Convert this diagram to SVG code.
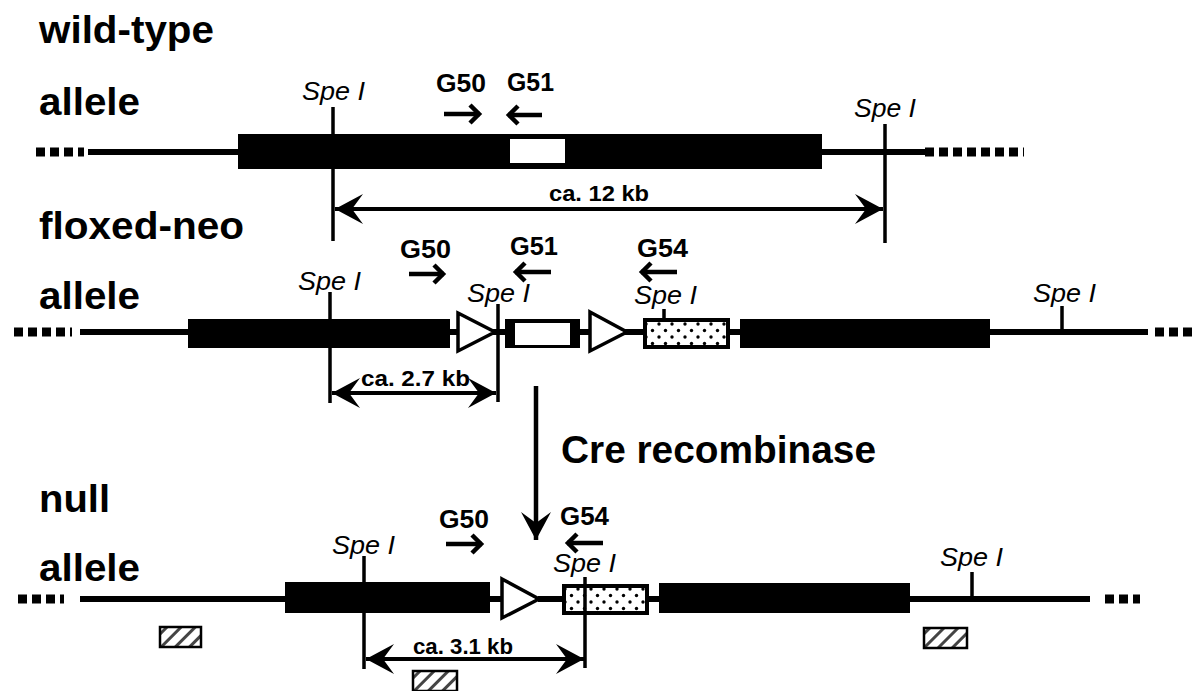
<svg xmlns="http://www.w3.org/2000/svg" width="1195" height="691" viewBox="0 0 1195 691">
<style>
text{font-family:"Liberation Sans",Arial,sans-serif;fill:#000}
.h{font-size:39px;font-weight:bold}
.g{font-size:25px;font-weight:bold}
.s{font-size:26px;font-style:italic}
.k{font-size:22px;font-weight:bold}
.b{fill:#000}
.l{stroke:#000;stroke-width:6;fill:none}
.t{stroke:#000;stroke-width:3.500;fill:none}
.d{stroke:#000;stroke-width:9;fill:none;stroke-dasharray:9 5}
.tri{fill:#fff;stroke:#000;stroke-width:3.500}
.sm{stroke:#000;stroke-width:4.500;fill:none}
.dim{stroke:#000;stroke-width:4;fill:none;marker-start:url(#barbS);marker-end:url(#barbE)}
.cre{stroke:#000;stroke-width:4.500;fill:none;marker-end:url(#barbE)}
.hb{fill:url(#hatch);stroke:#000;stroke-width:2.500}
</style>
<defs>
<marker id="barbE" markerUnits="userSpaceOnUse" markerWidth="32" markerHeight="32" refX="30" refY="16" orient="auto"><path d="M30 16L2 1 13 16 2 31Z" fill="#000"/></marker>
<marker id="barbS" markerUnits="userSpaceOnUse" markerWidth="32" markerHeight="32" refX="2" refY="16" orient="auto"><path d="M2 16L30 1 19 16 30 31Z" fill="#000"/></marker>
<marker id="head" markerUnits="userSpaceOnUse" markerWidth="16" markerHeight="22" refX="13" refY="11" orient="auto"><path d="M3 2L12 11 3 20" fill="none" stroke="#000" stroke-width="4.500"/></marker>
<pattern id="dots" width="13" height="13" patternUnits="userSpaceOnUse" x="643" y="321"><rect width="13" height="13" fill="#fff"/><circle cx="3" cy="3" r="1.700"/><circle cx="9.500" cy="9.500" r="1.700"/></pattern>
<pattern id="dots2" width="13" height="13" patternUnits="userSpaceOnUse" x="562" y="586"><rect width="13" height="13" fill="#fff"/><circle cx="3" cy="3" r="1.700"/><circle cx="9.500" cy="9.500" r="1.700"/></pattern>
<pattern id="hatch" width="10" height="10" patternUnits="userSpaceOnUse" patternTransform="rotate(45)"><rect width="10" height="10" fill="#fff"/><rect width="3" height="10" fill="#444"/></pattern>
</defs>

<g id="wild-type-allele">
<text class="h" x="39" y="43" textLength="175" lengthAdjust="spacingAndGlyphs">wild-type</text>
<text class="h" x="39" y="115" textLength="101" lengthAdjust="spacingAndGlyphs">allele</text>
<path class="d" d="M36 152H84"/>
<path class="l" d="M88 152H238M822 152H925"/>
<path class="d" d="M925 152H1024"/>
<rect class="b" x="238" y="134" width="584" height="35"/>
<rect x="510" y="139" width="55" height="24" fill="#fff"/>
<text class="s" x="302" y="100" textLength="63" lengthAdjust="spacingAndGlyphs">Spe I</text>
<text class="s" x="854" y="117" textLength="62" lengthAdjust="spacingAndGlyphs">Spe I</text>
<text class="g" x="436" y="92" textLength="50" lengthAdjust="spacingAndGlyphs">G50</text>
<text class="g" x="507" y="91" textLength="47" lengthAdjust="spacingAndGlyphs">G51</text>
<text class="k" x="549" y="201" textLength="100" lengthAdjust="spacingAndGlyphs">ca. 12 kb</text>
</g>

<g id="floxed-neo-allele">
<text class="h" x="39" y="239" textLength="205" lengthAdjust="spacingAndGlyphs">floxed-neo</text>
<text class="h" x="39" y="309" textLength="101" lengthAdjust="spacingAndGlyphs">allele</text>
<path class="d" d="M14 332H72"/>
<path class="l" d="M80 332H188M450 332H505M580 332H643M730 332H740M990 332H1148"/>
<path class="d" d="M1155 332H1195"/>
<rect class="b" x="188" y="319" width="262" height="29"/>
<polygon class="tri" points="458,313 495,332 458,351"/>
<rect class="b" x="505" y="319" width="75" height="29"/>
<rect x="515" y="323" width="55" height="22" fill="#fff"/>
<polygon class="tri" points="590,312 627,332 590,351"/>
<rect x="645" y="320" width="83" height="27" fill="url(#dots)" stroke="#000" stroke-width="4"/>
<rect class="b" x="740" y="319" width="250" height="29"/>
<text class="s" x="298" y="290" textLength="63" lengthAdjust="spacingAndGlyphs">Spe I</text>
<text class="s" x="467" y="302" textLength="63" lengthAdjust="spacingAndGlyphs">Spe I</text>
<text class="s" x="634" y="304" textLength="63" lengthAdjust="spacingAndGlyphs">Spe I</text>
<text class="s" x="1033" y="302" textLength="63" lengthAdjust="spacingAndGlyphs">Spe I</text>
<text class="g" x="400" y="258" textLength="51" lengthAdjust="spacingAndGlyphs">G50</text>
<text class="g" x="510" y="255" textLength="48" lengthAdjust="spacingAndGlyphs">G51</text>
<text class="g" x="637" y="257" textLength="51" lengthAdjust="spacingAndGlyphs">G54</text>
<text class="k" x="361" y="386" textLength="109" lengthAdjust="spacingAndGlyphs">ca. 2.7 kb</text>
</g>

<g id="null-allele">
<text class="h" x="39" y="512" textLength="71" lengthAdjust="spacingAndGlyphs">null</text>
<text class="h" x="39" y="581" textLength="101" lengthAdjust="spacingAndGlyphs">allele</text>
<path class="d" d="M18 599H64"/>
<path class="l" d="M80 599H285M490 599H501M538 599H562M649 599H659M910 599H1090"/>
<path class="d" d="M1105 599H1140"/>
<rect class="b" x="285" y="582" width="205" height="31"/>
<polygon class="tri" points="502,579 539,599 502,618"/>
<rect x="564" y="586" width="83" height="27" fill="url(#dots2)" stroke="#000" stroke-width="4"/>
<rect class="b" x="659" y="583" width="251" height="30"/>
<text class="s" x="332" y="554" textLength="63" lengthAdjust="spacingAndGlyphs">Spe I</text>
<text class="s" x="553" y="572" textLength="63" lengthAdjust="spacingAndGlyphs">Spe I</text>
<text class="s" x="940" y="566" textLength="63" lengthAdjust="spacingAndGlyphs">Spe I</text>
<text class="g" x="439" y="528" textLength="50" lengthAdjust="spacingAndGlyphs">G50</text>
<text class="g" x="560" y="525" textLength="49" lengthAdjust="spacingAndGlyphs">G54</text>
<text class="k" x="413" y="654" textLength="100" lengthAdjust="spacingAndGlyphs">ca. 3.1 kb</text>
<rect class="hb" x="160" y="627" width="41" height="20"/>
<rect class="hb" x="413" y="671" width="44" height="20"/>
<rect class="hb" x="924" y="628" width="43" height="20"/>
</g>

<g id="cre-label">
<text class="h" x="561" y="463" textLength="315" lengthAdjust="spacingAndGlyphs">Cre recombinase</text>
</g>

<g id="connectors">
<path class="t" d="M333 107V241M885 124V243M330 292V403M498 304V402M364 556V669M585 577V668M664 309V319M1062 306V332M972 572V598"/>
<path class="dim" d="M335 209H883"/>
<path class="dim" d="M332 393H496"/>
<path class="dim" d="M366 659H584"/>
<path class="sm" marker-end="url(#head)" d="M444 114H480"/>
<path class="sm" marker-end="url(#head)" d="M542 115H508"/>
<path class="sm" marker-end="url(#head)" d="M409 274H444"/>
<path class="sm" marker-end="url(#head)" d="M551 272H515"/>
<path class="sm" marker-end="url(#head)" d="M677 272H641"/>
<path class="sm" marker-end="url(#head)" d="M446 544H482"/>
<path class="sm" marker-end="url(#head)" d="M603 543H567"/>
<path class="cre" d="M536 386V540"/>
</g>
</svg>
